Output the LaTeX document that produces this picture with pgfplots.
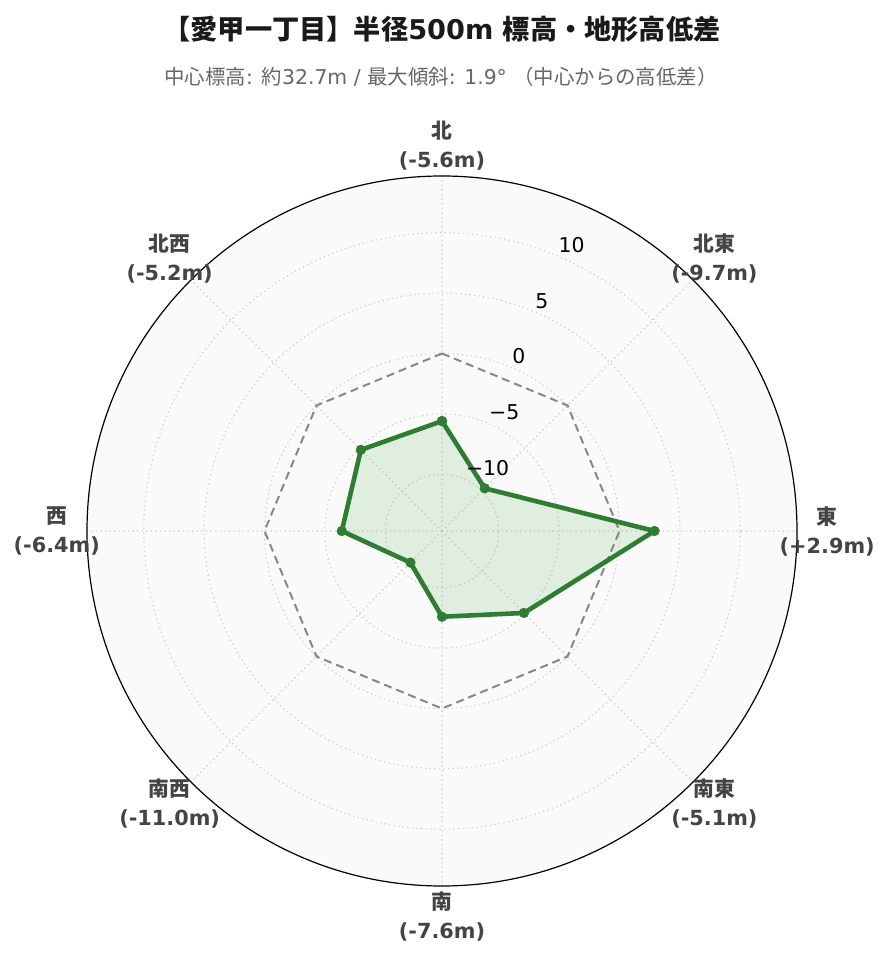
\documentclass[border=0pt]{standalone}
\usepackage{fontspec}
\setmainfont{DejaVu Sans}
\newfontfamily\jp{Noto Sans CJK JP}
\usepackage{pgfplots}
\pgfplotsset{compat=1.18}
\usepackage{pgfplotstable}
\usepgfplotslibrary{polar}
\definecolor{lineg}{HTML}{2E7D32}
\definecolor{fillg}{HTML}{4CAF50}
\definecolor{bgc}{HTML}{FAFAFA}
\definecolor{gridc}{HTML}{D0D0D0}
\definecolor{dashc}{HTML}{888888}
\definecolor{lab}{HTML}{444444}
\definecolor{subc}{HTML}{666666}
\definecolor{titc}{HTML}{1A1A1A}

\tikzset{
  lbl/.style={font=\bfseries\fontsize{10.4}{14.5}\selectfont, text=lab, align=center, anchor=center},
  rt/.style={font=\fontsize{10.2}{11}\selectfont, text=black, anchor=south west, inner sep=0pt, xshift=1pt, yshift=1.2pt},
}

\pgfplotstableread{
angle elev
90 -5.6
45 -9.7
0 2.9
315 -5.1
270 -7.6
225 -11.0
180 -6.4
135 -5.2
90 -5.6
}\elevdata
\pgfplotstableread{
angle ref
90 0
45 0
0 0
315 0
270 0
225 0
180 0
135 0
90 0
}\zerodata

\begin{document}
\begin{tikzpicture}[x=0.5pt,y=0.5pt]
\path[use as bounding box] (0,0) rectangle (889,962);
\node[font=\bfseries\fontsize{13.6}{16}\selectfont, text=titc] at (442,933) {{\jp 【愛甲一丁目】半径}500m {\jp 標高・地形高低差}};
\node[font=\fontsize{10.2}{12}\selectfont, text=subc] at (441,885) {{\jp 中心標高}: {\jp 約}32.7m / {\jp 最大傾斜}: 1.9° {\jp （中心からの高低差）}};
\begin{polaraxis}[
  at={(221pt,215.5pt)}, anchor=center,
  scale only axis, width=355pt, height=355pt,
  xmin=0, xmax=360, ymin=0, ymax=29.4,
  xtick={0,45,...,315}, xticklabels={},
  ytick={4.7,9.7,14.7,19.7,24.7}, yticklabels={},
  grid=major,
  major grid style={gridc, dash pattern=on 0.7pt off 1.6pt, line width=0.55pt},
  axis line style={black, line width=0.6pt},
  y axis line style={draw=none},
  major tick length=0pt,
  clip=false,
  axis background/.style={fill=bgc},
]
\addplot[dashc, dash pattern=on 4pt off 2.5pt, line width=1pt, no markers] table[x=angle, y expr=\thisrow{ref}+14.7]{\zerodata};
\addplot[lineg, line width=2.3pt, fill=fillg, fill opacity=0.15, mark=*, mark size=2.3pt, mark options={fill=lineg, fill opacity=1, draw opacity=1, line width=0.5pt}] table[x=angle, y expr=\thisrow{elev}+14.7]{\elevdata};

\node[rt] at (axis cs:67.5,24.7) {10};
\node[rt] at (axis cs:67.5,19.7) {5};
\node[rt] at (axis cs:67.5,14.7) {0};
\node[rt] at (axis cs:67.5,9.7) {−5};
\node[rt] at (axis cs:67.5,4.7) {−10};

\node[lbl] at (axis cs:90,31.9) {{\jp 北}\\(-5.6m)};
\node[lbl] at (axis cs:45,31.9) {{\jp 北東}\\(-9.7m)};
\node[lbl] at (axis cs:0,31.9) {{\jp 東}\\(+2.9m)};
\node[lbl] at (axis cs:315,31.9) {{\jp 南東}\\(-5.1m)};
\node[lbl] at (axis cs:270,31.9) {{\jp 南}\\(-7.6m)};
\node[lbl] at (axis cs:225,31.9) {{\jp 南西}\\(-11.0m)};
\node[lbl] at (axis cs:180,31.9) {{\jp 西}\\(-6.4m)};
\node[lbl] at (axis cs:135,31.9) {{\jp 北西}\\(-5.2m)};
\end{polaraxis}
\end{tikzpicture}
\end{document}
